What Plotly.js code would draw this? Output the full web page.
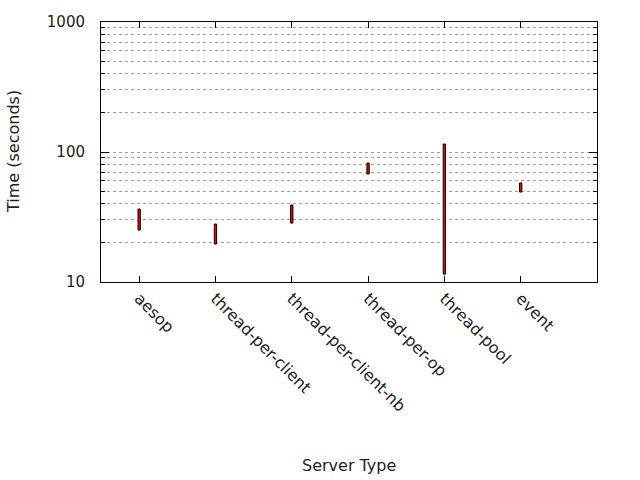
<!DOCTYPE html>
<html><head><meta charset="utf-8">
<script src="https://cdn.plot.ly/plotly-3.0.1.min.js"></script>
<style>body{margin:0;background:#fff}#c{width:640px;height:480px}</style>
</head><body><div id="c"></div>
<script>
const servers = ["aesop","thread-per-client","thread-per-client-nb","thread-per-op","thread-pool","event"];
const lowTimes = [25.1, 19.6, 28.4, 67.7, 11.5, 49.2];
const highTimes = [36.4, 27.9, 39.1, 82.3, 115.2, 57.8];
const yTickVals = [10, 100, 1000];
const yTickText = ["10", "100", "1000"];
const yMinorVals = [20, 30, 40, 50, 60, 70, 80, 90, 200, 300, 400, 500, 600, 700, 800, 900];

const xIdx = servers.map((_, i) => i);
const trace = {
  type: "bar",
  x: xIdx,
  base: lowTimes,
  y: highTimes.map((h, i) => h - lowTimes[i]),
  width: 0.03,
  marker: {color: "#ff0000", line: {color: "#000000", width: 1}},
  hoverinfo: "skip",
  showlegend: false
};
const font = {family: "DejaVu Sans", size: 16, color: "#222"};
const yfont = {family: "DejaVu Sans", size: 15, color: "#222"};
const layout = {
  width: 640, height: 480,
  margin: {l: 101, r: 43, t: 22, b: 198},
  paper_bgcolor: "#fff", plot_bgcolor: "#fff",
  font: font,
  showlegend: false,
  xaxis: {
    range: [-0.5, 6],
    tickmode: "array", tickvals: xIdx, ticktext: servers,
    tickangle: 45,
    ticks: "inside", ticklen: 6, tickcolor: "#000",
    showline: true, linecolor: "#000", linewidth: 1, mirror: "ticks",
    showgrid: false, zeroline: false, automargin: false,
    tickfont: font
  },
  yaxis: {
    type: "log", range: [1, 3],
    tickmode: "array", tickvals: yTickVals, ticktext: yTickText,
    ticks: "inside", ticklen: 8, tickcolor: "#000",
    ticklabelstandoff: 12,
    showline: true, linecolor: "#000", linewidth: 1, mirror: "ticks",
    showgrid: true, gridcolor: "#a0a0a0", griddash: "dot", gridwidth: 1,
    zeroline: false, automargin: false,
    minor: {tickmode: "array", tickvals: yMinorVals, ticks: "inside", ticklen: 4, tickcolor: "#000",
            showgrid: true, gridcolor: "#a0a0a0", griddash: "dot", gridwidth: 1},
    tickfont: yfont
  },
  annotations: [
    {text: "Server Type", xref: "paper", yref: "paper", x: 0.5, y: -(465 - 282) / 260,
     xanchor: "center", yanchor: "middle", showarrow: false, font: font},
    {text: "Time (seconds)", xref: "paper", yref: "paper", x: (13 - 101) / 496, y: 0.5,
     xanchor: "center", yanchor: "middle", textangle: -90, showarrow: false, font: font}
  ]
};
Plotly.newPlot("c", [trace], layout, {staticPlot: true, displayModeBar: false});
</script></body></html>
